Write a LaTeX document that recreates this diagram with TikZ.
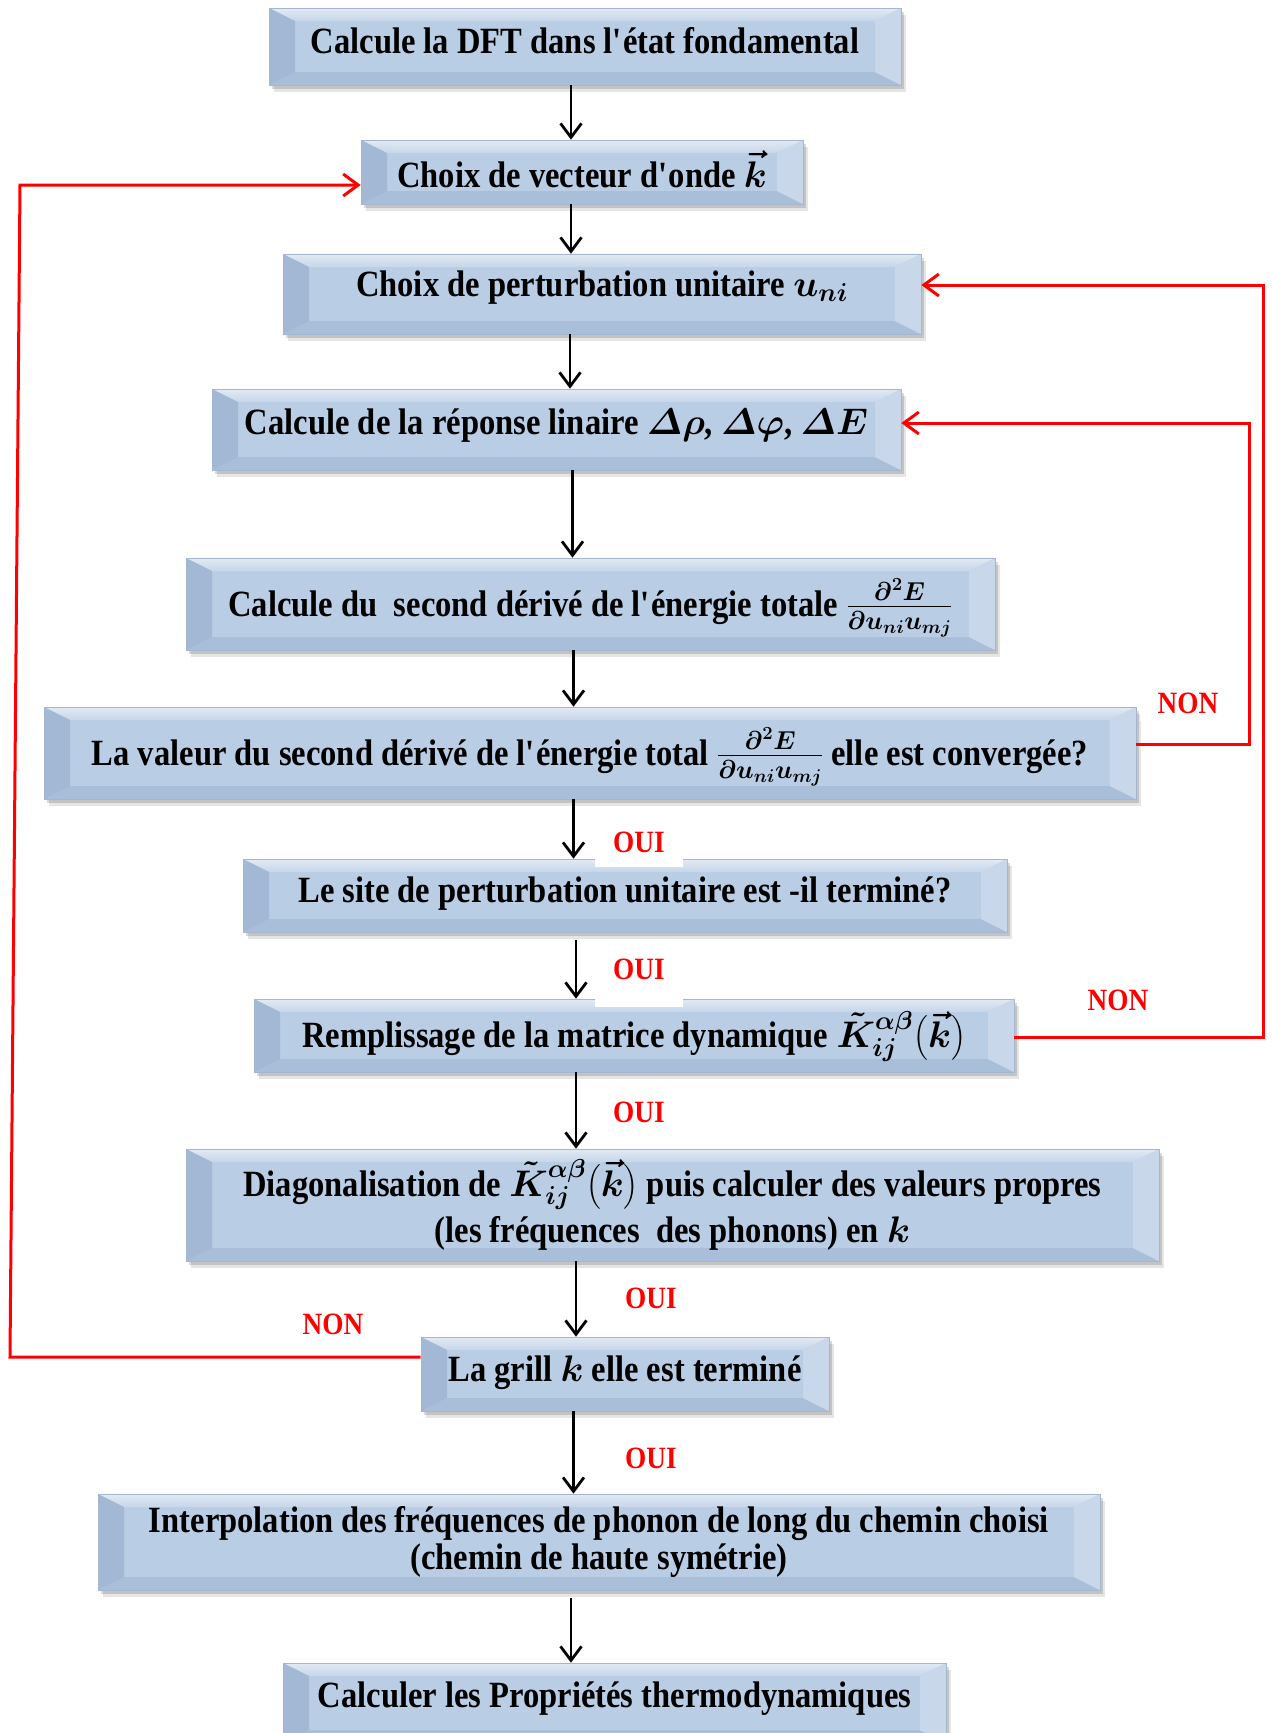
\RequirePackage{fix-cm}
\documentclass[tikz,border=0pt]{standalone}
\usepackage{amsmath}
\usepackage{fontspec}
\setmainfont{Liberation Serif}[FakeStretch=0.88]
\usetikzlibrary{arrows.meta,backgrounds}
\definecolor{bevmain}{HTML}{B9CDE5}
\definecolor{bevtop}{HTML}{E2EAF4}
\definecolor{bevleft}{HTML}{A2B8D4}
\definecolor{bevright}{HTML}{C8D7E9}
\definecolor{bevbot}{HTML}{A9BED9}
\definecolor{bevedge}{HTML}{A4B7CE}
\definecolor{linkred}{HTML}{FF0000}
\newcommand\boxfont{\fontsize{37}{44}\selectfont\bfseries\boldmath}
\newcommand\labfont{\fontsize{31}{31}\selectfont\bfseries}
\newcommand\apos{\textquotesingle}
\def\bvx{26pt}
\def\bvy{13pt}
\tikzset{
  bevbox/.style={draw=bevedge, line width=0.6pt, fill=bevmain, inner sep=0pt,
    align=center, font=\boxfont,
    path picture={
      \path (path picture bounding box.north west) coordinate (@nw)
            (path picture bounding box.south east) coordinate (@se);
      \path ([shift={(\bvx,-\bvy)}]@nw) coordinate (@inw)
            ([shift={(-\bvx,\bvy)}]@se) coordinate (@ise);
      \shade[top color=bevtop, bottom color=bevmain!70!bevtop]
        (@nw) -- (@nw -| @se) -- (@inw -| @ise) -- (@inw) -- cycle;
      \fill[bevbot] (@se) -- (@se -| @nw) -- (@ise -| @inw) -- (@ise) -- cycle;
      \fill[bevleft] (@nw) -- (@inw) -- (@ise -| @inw) -- (@se -| @nw) -- cycle;
      \fill[bevright] (@nw -| @se) -- (@inw -| @ise) -- (@ise) -- (@se) -- cycle;
    }},
  lift/.style={text height=30pt, text depth=16pt},
  midtext/.style={text height=32pt, text depth=8pt},
  arr/.style={-{Straight Barb[length=14pt,width=21pt]}, line width=2.8pt, black},
  redarr/.style={-{Straight Barb[length=15pt,width=22pt]}, line width=3pt, linkred},
  lab/.style={text=linkred, font=\labfont, fill=white, inner xsep=18pt, inner ysep=0pt,
    text height=24pt, text depth=8pt, anchor=base},
}
\begin{document}
\begin{tikzpicture}[x=1pt,y=-1pt]
\useasboundingbox (0,0) rectangle (1272,1733);
\clip (0,0) rectangle (1272,1733);

\node[bevbox, lift, minimum width=632pt, minimum height=77pt] (b1) at (585,46.5)
  {Calcule la DFT dans l\apos état fondamental};
\node[bevbox, text height=30pt, text depth=0pt, minimum width=442pt, minimum height=64pt] (b2) at (582,172)
  {Choix de vecteur d\apos onde $\vec{k}$};
\node[bevbox, text height=30pt, text depth=26pt, minimum width=638pt, minimum height=80pt] (b3) at (602,294)
  {Choix de perturbation unitaire $u_{ni}$};
\node[bevbox, text height=30pt, text depth=20pt, minimum width=689pt, minimum height=81pt] (b4) at (556.5,429.5)
  {Calcule de la réponse linaire $\varDelta\rho$, $\varDelta\varphi$, $\varDelta E$};
\node[bevbox, midtext, minimum width=809pt, minimum height=92pt] (b5) at (590.5,604)
  {Calcule du~ second dérivé de l\apos énergie totale $\frac{\partial^2E}{\partial u_{ni}u_{mj}}$};
\node[bevbox, midtext, minimum width=1092pt, minimum height=92pt] (b6) at (590,753)
  {La valeur du second dérivé de l\apos énergie total $\frac{\partial^2E}{\partial u_{ni}u_{mj}}$ elle est convergée?};
\node[bevbox, lift, minimum width=764pt, minimum height=73pt] (b7) at (625,895.5)
  {Le site de perturbation unitaire est -il terminé?};
\node[bevbox, midtext, minimum width=760pt, minimum height=73pt] (b8) at (634,1035.5)
  {Remplissage de la matrice dynamique $\tilde{K}_{ij}^{\alpha\beta}\bigl(\vec{k}\bigr)$};
\node[bevbox, minimum width=973pt, minimum height=112pt, font=\fontsize{37}{46}\selectfont\bfseries\boldmath] (b9) at (672.5,1205)
  {Diagonalisation de $\tilde{K}_{ij}^{\alpha\beta}\bigl(\vec{k}\bigr)$ puis calculer des valeurs propres\\(les fréquences~ des phonons) en $k$};
\node[bevbox, lift, minimum width=408pt, minimum height=74pt] (b10) at (625,1374)
  {La grill $k$ elle est terminé};
\node[bevbox, minimum width=1002pt, minimum height=96pt, font=\fontsize{37}{37}\selectfont\bfseries\boldmath] (b11) at (599,1542)
  {Interpolation des fréquences de phonon de long du chemin choisi\\(chemin de haute symétrie)};
\node[bevbox, minimum width=663pt, minimum height=80pt, text depth=17pt] (b12) at (614.5,1703)
  {Calculer les Propriétés thermodynamiques};

\begin{scope}[on background layer]
\foreach \n in {b1,b2,b3,b4,b5,b6,b7,b8,b9,b10,b11,b12}{
  \fill[black,opacity=0.10] ([shift={(5pt,-7pt)}]\n.north west) rectangle ([shift={(5pt,-7pt)}]\n.south east);
  \fill[black,opacity=0.15] ([shift={(3pt,-4pt)}]\n.north west) rectangle ([shift={(3pt,-4pt)}]\n.south east);
}
\end{scope}

% black arrows
\draw[arr] (b1.south -| 571,0) -- (b2.north -| 571,0);
\draw[arr] (b2.south -| 571,0) -- (b3.north -| 571,0);
\draw[arr] (b3.south -| 570,0) -- (b4.north -| 570,0);
\draw[arr] (b4.south -| 572.5,0) -- (b5.north -| 572.5,0);
\draw[arr] (b5.south -| 573.5,0) -- (b6.north -| 573.5,0);
\draw[arr] (b6.south -| 573.5,0) -- (b7.north -| 573.5,0);
\draw[arr, shorten <=8pt] (b7.south -| 576,0) -- (b8.north -| 576,0);
\draw[arr] (b8.south -| 576,0) -- (b9.north -| 576,0);
\draw[arr] (b9.south -| 576,0) -- (b10.north -| 576,0);
\draw[arr] (b10.south -| 573.5,0) -- (b11.north -| 573.5,0);
\draw[arr, shorten <=8pt] (b11.south -| 571,0) -- (b12.north -| 571,0);

% red feedback loops
\coordinate (l1a) at (10,1357);
\coordinate (l1b) at (20,185);
\draw[redarr] (b10.west |- 0,1357) -- (l1a) -- (l1b) -- (b2.west |- 0,185);
\coordinate (l2a) at (1249,744);
\coordinate (l2b) at (1249,423);
\draw[redarr] (b6.east |- 0,744) -- (l2a) -- (l2b) -- (b4.east |- 0,423);
\coordinate (l3a) at (1263,1037);
\coordinate (l3b) at (1263,285);
\draw[redarr] (b8.east |- 0,1037) -- (l3a) -- (l3b) -- (b3.east |- 0,285);

% labels
\node[lab] (n1) at (1188,713) {NON};
\node[lab, text depth=15pt] (o1) at (639,852) {OUI};
\node[lab, text depth=28pt] (o2) at (639,979) {OUI};
\node[lab] (n2) at (1118,1010) {NON};
\node[lab] (o3) at (639,1122) {OUI};
\node[lab] (o4) at (651,1308) {OUI};
\node[lab] (n3) at (333,1334) {NON};
\node[lab] (o5) at (651,1468) {OUI};
\end{tikzpicture}
\end{document}
